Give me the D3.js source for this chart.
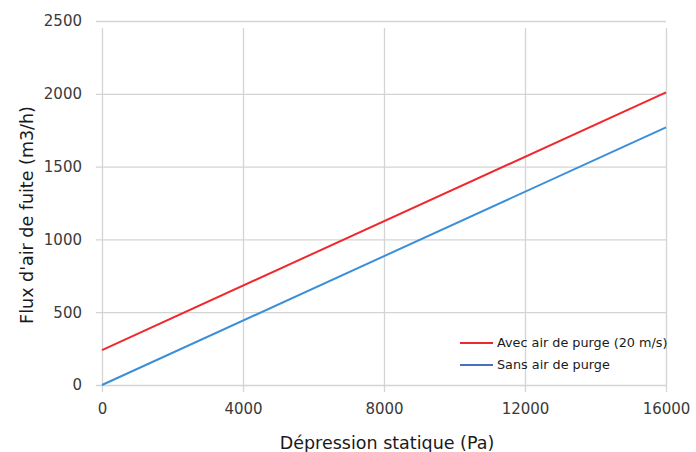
<!DOCTYPE html>
<html>
<head>
<meta charset="utf-8">
<script src="https://cdn.jsdelivr.net/npm/d3@7"></script>
<style>
body { margin: 0; background: #fff; }
.tick text { font-family: "DejaVu Sans", sans-serif; font-size: 15px; fill: #3a3a3a; }
</style>
</head>
<body>
<script>
// data
var pressure = [0, 16000];
var avecPurge = [240, 2010];
var sansPurge = [0, 1770];
var seriesNames = ['Avec air de purge (20 m/s)', 'Sans air de purge'];
var seriesColours = ['#f0282d', '#3a8fd8'];
var legendColours = ['#f0282d', '#4a6fc0'];
var xTicks = [0, 4000, 8000, 12000, 16000];
var yTicks = [0, 500, 1000, 1500, 2000, 2500];

var W = 696, H = 452;
var margin = {left: 102, right: 30, top: 21, bottom: 67};

var svg = d3.select('body').append('svg')
	.attr('width', W)
	.attr('height', H);

var x = d3.scaleLinear().domain([0, 16000]).range([margin.left, W - margin.right]);
var y = d3.scaleLinear().domain([0, 2500]).range([H - margin.bottom, margin.top]);

// grid + axes
var xAxis = svg.append('g')
	.attr('transform', 'translate(0,' + y(0) + ')')
	.call(d3.axisBottom(x).tickValues(xTicks).tickSizeInner(-(y(0) - y(2500))).tickPadding(18).tickFormat(d3.format('d')));
xAxis.select('.domain').remove();
xAxis.selectAll('line').attr('stroke', '#d4d4d4').attr('y2', 7 - (y(0) - y(2500))).attr('y1', 7)
	.attr('stroke-width', 1.3);

var yAxis = svg.append('g')
	.attr('transform', 'translate(' + x(0) + ',0)')
	.call(d3.axisLeft(y).tickValues(yTicks).tickSizeInner(-(x(16000) - x(0))).tickPadding(20).tickFormat(d3.format('d')));
yAxis.select('.domain').remove();
yAxis.selectAll('line').attr('stroke', '#d4d4d4').attr('x1', -6).attr('stroke-width', 1.3);

// lines
var line = d3.line()
	.x(function(d) { return x(d[0]); })
	.y(function(d) { return y(d[1]); });

[avecPurge, sansPurge].forEach(function(s, i) {
	var pts = pressure.map(function(p, j) { return [p, s[j]]; });
	svg.append('path')
		.datum(pts)
		.attr('fill', 'none')
		.attr('stroke', seriesColours[i])
		.attr('stroke-width', 2)
		.attr('d', line);
});

// axis titles
svg.append('text')
	.attr('x', 387)
	.attr('y', 449)
	.attr('text-anchor', 'middle')
	.style('font-family', '"DejaVu Sans", sans-serif')
	.style('font-size', '17.5px')
	.attr('fill', '#1a1a1a')
	.text('Dépression statique (Pa)');

svg.append('text')
	.attr('transform', 'translate(33,' + 215 + ') rotate(-90)')
	.attr('text-anchor', 'middle')
	.style('font-family', '"DejaVu Sans", sans-serif')
	.style('font-size', '17.5px')
	.attr('fill', '#1a1a1a')
	.text("Flux d'air de fuite (m3/h)");

// legend
for (var i = 0; i < 2; i++) {
	svg.append('line')
		.attr('x1', 460).attr('x2', 493)
		.attr('y1', 343 + i * 22).attr('y2', 343 + i * 22)
		.attr('stroke', legendColours[i])
		.attr('stroke-width', 2);
	svg.append('text')
		.attr('x', 497)
		.attr('y', 347 + i * 22)
		.style('font-family', '"DejaVu Sans", sans-serif')
		.style('font-size', '12.8px')
		.attr('fill', '#1a1a1a')
		.text(seriesNames[i]);
}
</script>
</body>
</html>
